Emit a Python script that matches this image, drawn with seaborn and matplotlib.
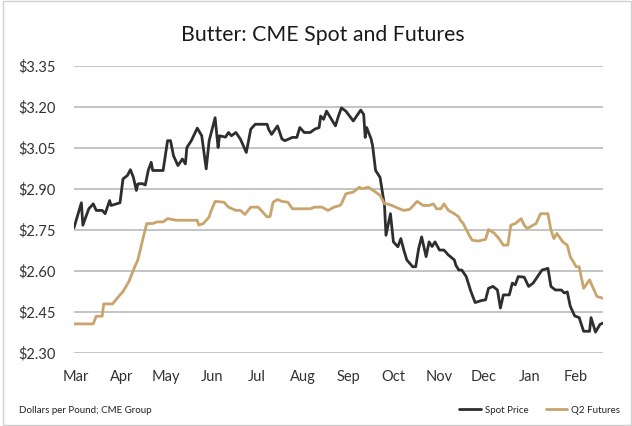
import numpy as np
import pandas as pd
import matplotlib
matplotlib.use("Agg")
import matplotlib.pyplot as plt
from matplotlib.patches import Rectangle
from matplotlib.lines import Line2D
import seaborn as sns

# Days since 1 March, and values ($/lb)
spot_days = [-1, 4, 5, 9, 12, 14, 18, 20, 23, 24, 30, 32, 35, 37, 39, 41, 42, 45, 47, 49, 51, 52, 57, 59,
             62, 64, 66, 69, 72, 74, 75, 78, 82, 85, 88, 90, 94, 96, 97, 101, 103, 105, 108, 111, 115, 118,
             121, 124, 129, 130, 132, 136, 139, 141, 146, 149, 151, 154, 158, 161, 164, 165, 167, 169, 173,
             175, 177, 179, 182, 187, 192, 194, 195, 196, 199, 200, 202, 205, 208, 209, 212, 214, 217, 219,
             221, 223, 227, 229, 231, 233, 236, 238, 240, 242, 245, 248, 251, 255, 256, 258, 260, 263, 266,
             269, 273, 276, 278, 281, 284, 286, 288, 292, 294, 296, 298, 302, 305, 308, 311, 314, 318, 320,
             323, 327, 329, 331, 333, 336, 339, 342, 346, 347, 350, 353, 355]
spot_vals = [2.758, 2.85, 2.768, 2.828, 2.846, 2.822, 2.822, 2.81, 2.858, 2.84, 2.85, 2.937, 2.95, 2.971,
             2.943, 2.895, 2.919, 2.92, 2.915, 2.968, 2.998, 2.968, 2.968, 2.968, 3.077, 3.077, 3.022, 2.986,
             3.01, 2.992, 3.052, 3.077, 3.123, 3.095, 2.974, 3.077, 3.161, 3.052, 3.095, 3.09, 3.107, 3.095,
             3.107, 3.083, 3.034, 3.119, 3.137, 3.137, 3.137, 3.119, 3.10, 3.131, 3.083, 3.077, 3.089, 3.089,
             3.125, 3.107, 3.107, 3.119, 3.125, 3.167, 3.155, 3.185, 3.149, 3.131, 3.167, 3.197, 3.185, 3.149,
             3.189, 3.173, 3.089, 3.125, 3.083, 3.058, 2.968, 2.943, 2.84, 2.731, 2.81, 2.707, 2.689, 2.719,
             2.677, 2.641, 2.616, 2.616, 2.683, 2.725, 2.653, 2.707, 2.69, 2.707, 2.677, 2.677, 2.659, 2.641,
             2.622, 2.604, 2.604, 2.58, 2.528, 2.485, 2.492, 2.495, 2.537, 2.544, 2.531, 2.465, 2.513, 2.513,
             2.556, 2.55, 2.58, 2.578, 2.544, 2.556, 2.58, 2.604, 2.61, 2.544, 2.531, 2.531, 2.52, 2.524,
             2.472, 2.436, 2.43, 2.38, 2.38, 2.43, 2.377, 2.405, 2.41]

fut_days = [-1, 12, 14, 18, 19, 25, 29, 32, 36, 39, 42, 46, 48, 52, 55, 59, 62, 68, 82, 83, 86, 90, 91, 94,
            100, 103, 108, 111, 114, 118, 123, 126, 129, 131, 133, 136, 139, 143, 146, 158, 161, 166, 170,
            174, 178, 179, 182, 187, 191, 193, 197, 202, 205, 208, 210, 213, 218, 221, 225, 230, 234, 238,
            241, 243, 246, 248, 251, 255, 258, 259, 261, 265, 267, 271, 276, 278, 282, 285, 288, 291, 293,
            296, 300, 302, 304, 306, 310, 313, 318, 320, 322, 324, 328, 331, 333, 337, 339, 342, 346, 349,
            351, 355]
fut_vals = [2.407, 2.407, 2.435, 2.435, 2.48, 2.48, 2.507, 2.525, 2.562, 2.604, 2.641, 2.731, 2.774, 2.774,
            2.78, 2.78, 2.792, 2.786, 2.786, 2.768, 2.774, 2.798, 2.816, 2.855, 2.852, 2.834, 2.822, 2.822,
            2.807, 2.834, 2.834, 2.816, 2.798, 2.80, 2.852, 2.862, 2.855, 2.852, 2.828, 2.828, 2.834, 2.834,
            2.822, 2.834, 2.84, 2.846, 2.883, 2.889, 2.907, 2.901, 2.907, 2.889, 2.877, 2.846, 2.846, 2.84,
            2.828, 2.822, 2.826, 2.855, 2.84, 2.84, 2.846, 2.828, 2.828, 2.846, 2.822, 2.81, 2.798, 2.786,
            2.774, 2.731, 2.713, 2.71, 2.716, 2.752, 2.738, 2.719, 2.695, 2.695, 2.768, 2.774, 2.792, 2.768,
            2.756, 2.762, 2.774, 2.81, 2.81, 2.75, 2.719, 2.738, 2.707, 2.695, 2.653, 2.616, 2.616, 2.537,
            2.568, 2.531, 2.507, 2.501]

series_names = ["Spot Price", "Q2 Futures"]
series_colors = ["#2e2e2e", "#c9a46c"]
y_ticks = [2.30, 2.45, 2.60, 2.75, 2.90, 3.05, 3.20, 3.35]
month_labels = ["Mar", "Apr", "May", "Jun", "Jul", "Aug", "Sep", "Oct", "Nov", "Dec", "Jan", "Feb"]
title = "Butter: CME Spot and Futures"
source = "Dollars per Pound; CME Group"

start = pd.Timestamp("2023-03-01")
df = pd.concat([
    pd.DataFrame({"date": start + pd.to_timedelta(spot_days, unit="D"), "value": spot_vals,
                  "series": series_names[0]}),
    pd.DataFrame({"date": start + pd.to_timedelta(fut_days, unit="D"), "value": fut_vals,
                  "series": series_names[1]}),
], ignore_index=True)

sns.set_theme(style="white")
plt.rcParams["font.family"] = ["Lato", "DejaVu Sans"]

fig = plt.figure(figsize=(6.32, 4.26), dpi=100)
ax = fig.add_axes([0.117, 0.171, 0.837, 0.674])

sns.lineplot(data=df, x="date", y="value", hue="series", hue_order=series_names,
             palette=series_colors, linewidth=2.0, ax=ax, legend=False, estimator=None)

ax.set_ylim(2.30, 3.35)
ax.set_yticks(y_ticks)
ax.set_yticklabels([f"${v:.2f}" for v in y_ticks], fontsize=10.5, color="#333333")
for lbl in ax.get_yticklabels():
    lbl.set_horizontalalignment("left")
ax.tick_params(axis="y", pad=40, length=0)
month_ticks = pd.date_range("2023-03-01", periods=12, freq="MS")
ax.set_xticks(month_ticks)
ax.set_xticklabels(month_labels, fontsize=10.5, color="#333333")
ax.tick_params(axis="x", length=0, pad=12)
ax.set_xlim(start + pd.Timedelta(days=-1), start + pd.Timedelta(days=355))
ax.grid(axis="y", color="#c4c4c4", linewidth=1.4)
ax.grid(axis="x", visible=False)
ax.set_axisbelow(True)
for s in ax.spines.values():
    s.set_visible(False)
ax.set_xlabel("")
ax.set_ylabel("")

fig.text(0.51, 0.918, title, ha="center", va="center", fontsize=15.3, color="#1a1a1a")
fig.text(0.030, 0.037, source, ha="left", va="center", fontsize=7, color="#222222")

handles = [Line2D([0], [0], color=c, lw=2) for c in series_colors]
fig.legend(handles, series_names, loc="center right", bbox_to_anchor=(0.995, 0.037), ncol=2,
           frameon=False, fontsize=7, handlelength=2.2, handletextpad=0.4, columnspacing=1.8,
           labelcolor="#222222")

fig.add_artist(Rectangle((0.004, 0.002), 0.994, 0.996, transform=fig.transFigure, fill=False,
                         edgecolor="#d0d0d0", linewidth=1.0))

fig.savefig("out.png", dpi=100)
